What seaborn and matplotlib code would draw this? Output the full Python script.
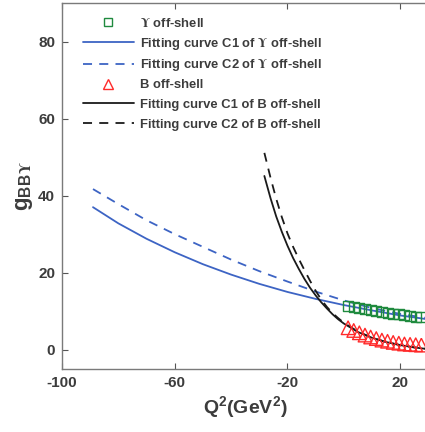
import numpy as np
import pandas as pd
import seaborn as sns
import matplotlib
matplotlib.use("Agg")
import matplotlib.pyplot as plt
from matplotlib.lines import Line2D

# Off-shell sum-rule points
q2_points = [1.5, 3.5, 5.5, 7.5, 9.5, 11.5, 13.5, 15.5, 17.5, 19.5, 21.5, 23.5, 25.5, 27.5]
g_upsilon_offshell = [11.4, 11.1, 10.8, 10.5, 10.3, 10.0, 9.8, 9.6, 9.4, 9.2, 9.0, 8.8, 8.6, 8.5]
g_b_offshell = [5.7, 5.0, 4.4, 3.8, 3.3, 2.9, 2.5, 2.2, 1.9, 1.7, 1.5, 1.4, 1.3, 1.2]

# Fitting curves, Upsilon off-shell
q2_ups_fit = [-89, -80, -70, -60, -50, -40, -30, -20, -10, 0, 10, 20, 28.8]
g_ups_c1 = [37.0, 32.8, 28.8, 25.3, 22.2, 19.5, 17.1, 15.0, 13.2, 11.6, 10.2, 8.9, 8.0]
g_ups_c2 = [41.7, 37.8, 33.6, 30.0, 26.7, 23.4, 20.4, 17.7, 15.1, 12.8, 10.8, 9.3, 8.3]

# Fitting curves, B off-shell
q2_b_fit = [-28.2, -26, -24, -22, -20, -18, -16, -14, -12, -10, -8, -6, -4, -2, 0, 5, 10, 15, 20, 25, 28.8]
g_b_c1 = [45.1, 39.3, 34.6, 30.6, 27.0, 23.8, 21.0, 18.4, 16.1, 14.1, 12.3, 10.7, 9.2, 7.9, 6.8, 4.6, 3.1, 2.0, 1.2, 0.6, 0.25]
g_b_c2 = [51.1, 44.6, 39.2, 34.4, 30.2, 26.7, 23.6, 20.7, 17.9, 15.3, 13.0, 11.1, 9.5, 8.2, 7.0, 4.7, 3.1, 2.0, 1.2, 0.6, 0.3]

x_ticks = [-100, -60, -20, 20]
y_ticks = [0, 20, 40, 60, 80]

sns.set_style("ticks")
plt.rcParams["font.family"] = ["Liberation Sans", "DejaVu Sans"]
plt.rcParams["axes.unicode_minus"] = False
plt.rcParams["mathtext.fontset"] = "custom"
plt.rcParams["mathtext.rm"] = "Liberation Sans"
plt.rcParams["mathtext.bf"] = "Liberation Sans:bold"
plt.rcParams["mathtext.sf"] = "STIXGeneral:bold"
plt.rcParams["mathtext.fallback"] = "stixsans"

TEXT = "#3c3c3c"
BLUE = "#3d64c4"
GREEN = "#1f8a3e"
RED = "#ff2a2a"
BLACK = "#1a1a1a"
UPS = r"$\mathsf{\Upsilon}$"

fig = plt.figure(figsize=(4.25, 4.32), dpi=100)
ax = fig.add_axes([62 / 425, 63 / 432, 366.4 / 425, 366 / 432])

fit_ups = pd.DataFrame({"q2": q2_ups_fit, "c1": g_ups_c1, "c2": g_ups_c2})
fit_b = pd.DataFrame({"q2": q2_b_fit, "c1": g_b_c1, "c2": g_b_c2})
pts = pd.DataFrame({"q2": q2_points, "ups": g_upsilon_offshell, "b": g_b_offshell})

sns.lineplot(data=fit_ups, x="q2", y="c1", ax=ax, color=BLUE, lw=1.3, sort=False)
sns.lineplot(data=fit_ups, x="q2", y="c2", ax=ax, color=BLUE, lw=1.3, sort=False,
             linestyle=(0, (5, 4)))
sns.lineplot(data=fit_b, x="q2", y="c1", ax=ax, color=BLACK, lw=1.3, sort=False)
sns.lineplot(data=fit_b, x="q2", y="c2", ax=ax, color=BLACK, lw=1.3, sort=False,
             linestyle=(0, (5, 4)))
sns.scatterplot(data=pts, x="q2", y="ups", ax=ax, marker="s", s=52,
                facecolor="none", edgecolor=GREEN, linewidth=1.0, zorder=3)
sns.scatterplot(data=pts, x="q2", y="b", ax=ax, marker="^", s=95,
                facecolor="none", edgecolor=RED, linewidth=1.0, zorder=3)

ax.set_xlim(-100, 30)
ax.set_ylim(-5, 90)
ax.set_xticks(x_ticks)
ax.set_yticks(y_ticks)
ax.tick_params(direction="in", length=4, width=0.8, color="#555555",
               labelsize=11, labelcolor=TEXT, top=True, right=False, pad=5)
for lab in ax.get_xticklabels() + ax.get_yticklabels():
    lab.set_fontweight("bold")
for s in ["left", "bottom", "top"]:
    ax.spines[s].set_color("#7a7a7a")
    ax.spines[s].set_linewidth(1.0)
ax.spines["top"].set_visible(True)
ax.spines["right"].set_visible(False)

ax.set_xlabel(r"$\mathbf{Q^2(GeV^2)}$", fontsize=14, color=TEXT, labelpad=3)
ax.set_ylabel(r"$\mathbf{g_{BB}}_{\mathsf{\Upsilon}}$", fontsize=16, color=TEXT, labelpad=2)

# Legend, split in two blocks so each group keeps an even row pitch
ups_handles = [
    Line2D([], [], ls="none", marker="s", ms=6, mfc="none", mec=GREEN, mew=1.0),
    Line2D([], [], color=BLUE, lw=1.3),
    Line2D([], [], color=BLUE, lw=1.3, ls=(0, (5, 4))),
]
ups_labels = [
    UPS + " off-shell",
    "Fitting curve C1 of " + UPS + " off-shell",
    "Fitting curve C2 of " + UPS + " off-shell",
]
b_handles = [
    Line2D([], [], ls="none", marker="^", ms=7.5, mfc="none", mec=RED, mew=1.0),
    Line2D([], [], color=BLACK, lw=1.3),
    Line2D([], [], color=BLACK, lw=1.3, ls=(0, (5, 4))),
]
b_labels = [
    "B off-shell",
    "Fitting curve C1 of B off-shell",
    "Fitting curve C2 of B off-shell",
]
common = dict(loc="upper left", frameon=False, borderpad=0, borderaxespad=0,
              handlelength=3.9, handletextpad=0.45,
              prop={"weight": "bold", "size": 9.4})
leg1 = ax.legend(ups_handles, ups_labels, bbox_to_anchor=(0.057, 0.962),
                 labelspacing=0.43, **common)
for t in leg1.get_texts():
    t.set_color(TEXT)
ax.add_artist(leg1)
leg2 = ax.legend(b_handles, b_labels, bbox_to_anchor=(0.057, 0.7925),
                 labelspacing=0.6, **common)
for t in leg2.get_texts():
    t.set_color(TEXT)

fig.savefig("out.png", dpi=100)
